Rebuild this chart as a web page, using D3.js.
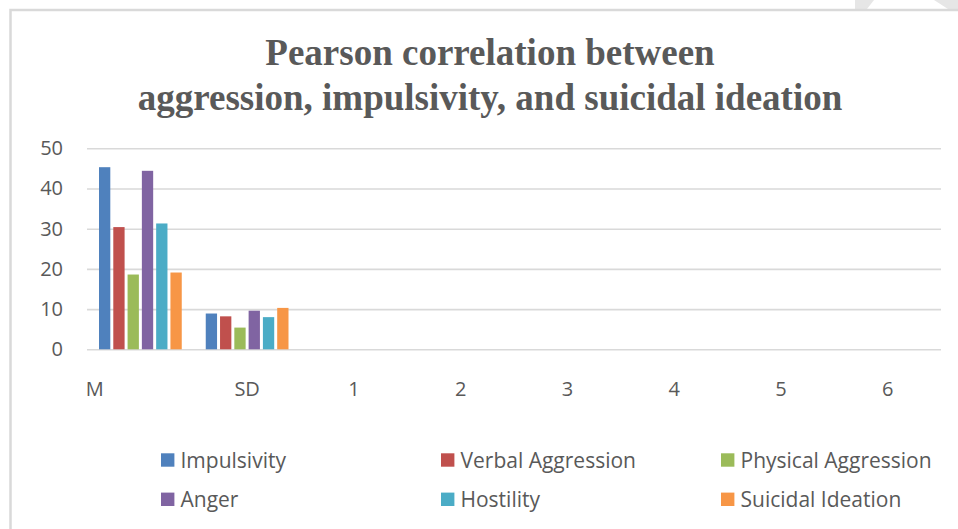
<!DOCTYPE html>
<html>
<head>
<meta charset="utf-8">
<script src="https://cdn.jsdelivr.net/npm/d3@7/dist/d3.min.js"></script>
<style>
  html, body { margin: 0; padding: 0; background: #ffffff; }
  svg { display: block; }
</style>
</head>
<body>
<svg id="chart" width="958" height="529"></svg>
<script>
// ---- data ----
const categories = ["M", "SD", "1", "2", "3", "4", "5", "6"];
const seriesNames = ["Impulsivity", "Verbal Aggression", "Physical Aggression", "Anger", "Hostility", "Suicidal Ideation"];
const impulsivity = [45.3, 8.9];
const verbalAggression = [30.4, 8.2];
const physicalAggression = [18.6, 5.4];
const anger = [44.4, 9.6];
const hostility = [31.3, 8.0];
const suicidalIdeation = [19.1, 10.3];
const yTicks = [0, 10, 20, 30, 40, 50];
const titleLines = ["Pearson correlation between", "aggression, impulsivity, and suicidal ideation"];

const seriesValues = [impulsivity, verbalAggression, physicalAggression, anger, hostility, suicidalIdeation];
const colors = ["#4F81BD", "#C0504D", "#9BBB59", "#8064A2", "#4BACC6", "#F79646"];

(function () {
const svg = d3.select("#chart");
const textColor = "#595959";

// chart area border & faint marks at top right
svg.append("polygon").attr("points", "855,0 874,0 867,9 855,9").attr("fill", "#e6e6e6");
svg.append("polygon").attr("points", "934,0 958,0 958,9 948,9").attr("fill", "#e6e6e6");
svg.append("rect")
  .attr("x", 10.5).attr("y", 10).attr("width", 1200).attr("height", 800)
  .attr("fill", "#ffffff").attr("stroke", "#d9d9d9").attr("stroke-width", 2.5);

// title
svg.append("text")
  .attr("x", 490).attr("y", 65)
  .attr("text-anchor", "middle")
  .attr("font-family", "'Liberation Serif', 'Times New Roman', serif")
  .attr("font-weight", "bold")
  .attr("font-size", 37)
  .attr("fill", textColor)
  .selectAll("tspan").data(titleLines).join("tspan")
  .attr("x", 490).attr("dy", (d, i) => i === 0 ? 0 : 45)
  .text(d => d);

// plot area
const plotLeft = 87, plotRight = 941, plotTop = 148.3, plotBottom = 349.3;
const x = d3.scaleBand().domain(categories).range([plotLeft, plotRight]).paddingInner(0).paddingOuter(0);
const y = d3.scaleLinear().domain([0, 50]).range([plotBottom, plotTop]);
const outerGap = 12;
const xInner = d3.scaleBand().domain(seriesNames)
  .range([outerGap, x.bandwidth() - outerGap]).paddingInner(0.209).paddingOuter(0);

// y axis with gridlines
const yAxis = svg.append("g")
  .attr("transform", `translate(${plotLeft},0)`)
  .call(d3.axisLeft(y).tickValues(yTicks).tickSize(-(plotRight - plotLeft)).tickPadding(24));
yAxis.select(".domain").remove();
yAxis.selectAll(".tick line").attr("stroke", "#d9d9d9").attr("stroke-width", 1.6);
yAxis.selectAll(".tick text")
  .attr("font-family", "'Open Sans', sans-serif").attr("font-size", 20).attr("fill", textColor);

// bars
const groups = svg.append("g").selectAll("g")
  .data(categories.slice(0, 2))
  .join("g")
  .attr("transform", c => `translate(${x(c)},0)`);
groups.selectAll("rect")
  .data((c, ci) => seriesNames.map((s, si) => ({ s, v: seriesValues[si][ci], color: colors[si] })))
  .join("rect")
  .attr("x", d => xInner(d.s))
  .attr("width", xInner.bandwidth())
  .attr("y", d => y(d.v))
  .attr("height", d => y(0) - y(d.v))
  .attr("fill", d => d.color);

// x axis labels
const xAxis = svg.append("g")
  .attr("transform", `translate(0,${plotBottom})`)
  .call(d3.axisBottom(x).tickSize(0).tickPadding(32.5));
xAxis.select(".domain").remove();
xAxis.selectAll(".tick text")
  .attr("font-family", "'Open Sans', sans-serif").attr("font-size", 20).attr("fill", textColor)
  .attr("dx", d => d === "M" ? -45.7 : 0);

// legend
const legendCols = [161, 441, 721];
const legendRows = [460, 499.3];
const legend = svg.append("g").selectAll("g")
  .data(seriesNames)
  .join("g")
  .attr("transform", (d, i) => `translate(${legendCols[i % 3]},${legendRows[Math.floor(i / 3)]})`);
legend.append("rect")
  .attr("x", 0).attr("y", -6.7).attr("width", 13.4).attr("height", 13.4)
  .attr("fill", (d, i) => colors[i]);
legend.append("text")
  .attr("x", 19.5).attr("y", 7.8)
  .attr("font-family", "'Open Sans', sans-serif").attr("font-size", 21).attr("fill", textColor)
  .text(d => d);
})();
</script>
</body>
</html>
